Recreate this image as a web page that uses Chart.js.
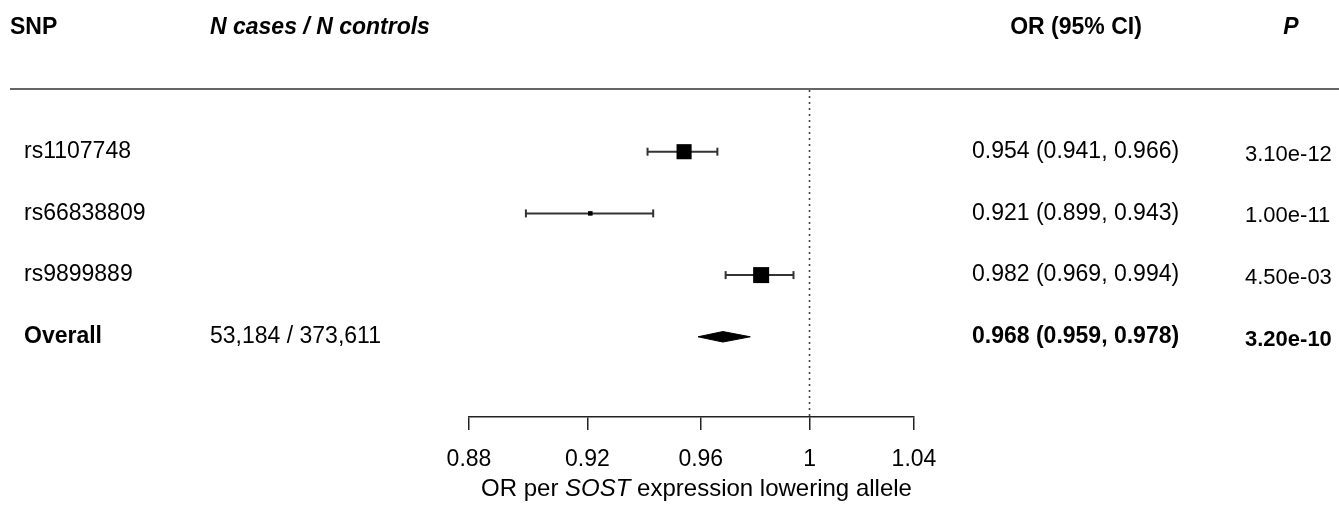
<!DOCTYPE html>
<html><head><meta charset="utf-8">
<script src="https://cdn.jsdelivr.net/npm/chart.js@4/dist/chart.umd.min.js"></script>
<style>html,body{margin:0;padding:0;background:#fff;} canvas{display:block;}</style>
</head><body>
<canvas id="c" width="1339" height="509"></canvas>
<script>
// ---- data ----
const snps = ['rs1107748', 'rs66838809', 'rs9899889'];
const snpOR = [0.954, 0.921, 0.982];
const snpLower = [0.941, 0.899, 0.969];
const snpUpper = [0.966, 0.943, 0.994];
const snpP = ['3.10e-12', '1.00e-11', '4.50e-03'];
const overallLabel = ['Overall'];
const overallN = ['53,184 / 373,611'];
const overallOR = [0.968];
const overallLower = [0.959];
const overallUpper = [0.978];
const overallP = ['3.20e-10'];
const tickValues = [0.88, 0.92, 0.96, 1, 1.04];
const tickLabels = ['0.88', '0.92', '0.96', '1', '1.04'];
const headers = ['SNP', 'N cases / N controls', 'OR (95% CI)', 'P'];
const axisTitle = ['OR per ', 'SOST', ' expression lowering allele'];

// ---- derived ----
const FONT = '"Liberation Sans", Arial, Helvetica, sans-serif';
const FS = 23;
const FS_P = 22;
const FS_T = 24;
const Y_MAX = 5.3;
const nRows = snps.length + 1;
// box side proportional to inverse-variance weight (from CI width on log scale)
const w = snps.map((_, i) => 1 / Math.pow(Math.log(snpUpper[i] / snpLower[i]), 2));
const wMax = Math.max(...w);
const boxSide = w.map(v => 16 * v / wMax);

const datasets = [];
// squares (drawn on top)
datasets.push({
  data: snps.map((_, i) => ({x: snpOR[i], y: i + 1})),
  pointStyle: 'rect',
  pointRadius: boxSide.map(s => s / Math.SQRT2),
  backgroundColor: '#000', borderColor: '#000', pointBorderWidth: 0,
  showLine: false
});
// whiskers
snps.forEach((_, i) => {
  datasets.push({
    data: [{x: snpLower[i], y: i + 1}, {x: snpUpper[i], y: i + 1}],
    showLine: true, borderColor: '#333', borderWidth: 2,
    pointStyle: 'line', rotation: 90, pointRadius: 4, pointBorderWidth: 2,
    pointBorderColor: '#333', pointBackgroundColor: '#333'
  });
});
// overall diamond
const oy = nRows, h = 0.085;
datasets.push({
  data: [
    {x: overallLower[0], y: oy}, {x: overallOR[0], y: oy - h},
    {x: overallUpper[0], y: oy}, {x: overallOR[0], y: oy + h},
    {x: overallLower[0], y: oy}
  ],
  showLine: true, fill: 'shape', backgroundColor: '#000', borderColor: '#000',
  borderWidth: 1, pointRadius: 0, tension: 0
});
// null line at OR = 1
datasets.push({
  data: [{x: 1, y: 0}, {x: 1, y: Y_MAX}],
  showLine: true, borderColor: '#444', borderWidth: 1.6, borderDash: [2, 4],
  pointRadius: 0
});

const textPlugin = {
  id: 'forestText',
  afterDraw(chart) {
    const ctx = chart.ctx, ys = chart.scales.y, xs = chart.scales.x;
    ctx.save();
    ctx.fillStyle = '#000';
    ctx.textBaseline = 'middle';
    // headers
    ctx.textAlign = 'left';
    ctx.font = `bold ${FS}px ${FONT}`;
    ctx.fillText(headers[0], 10, 28);
    ctx.font = `italic bold ${FS}px ${FONT}`;
    ctx.fillText(headers[1], 210, 28);
    ctx.textAlign = 'center';
    ctx.font = `bold ${FS}px ${FONT}`;
    ctx.fillText(headers[2], 1076, 28);
    ctx.font = `italic bold ${FS}px ${FONT}`;
    ctx.fillText(headers[3], 1291, 28);
    // top rule
    ctx.strokeStyle = '#333';
    ctx.lineWidth = 1.6;
    ctx.beginPath(); ctx.moveTo(10, 89); ctx.lineTo(1339, 89); ctx.stroke();
    // rows
    ctx.textAlign = 'left';
    const fmt = v => v.toFixed(3);
    snps.forEach((s, i) => {
      const py = ys.getPixelForValue(i + 1);
      ctx.font = `${FS}px ${FONT}`;
      ctx.fillText(s, 24, py);
      ctx.fillText(`${fmt(snpOR[i])} (${fmt(snpLower[i])}, ${fmt(snpUpper[i])})`, 972, py);
      ctx.font = `${FS_P}px ${FONT}`;
      ctx.fillText(snpP[i], 1245, py + 3);
    });
    const py = ys.getPixelForValue(oy);
    ctx.font = `bold ${FS}px ${FONT}`;
    ctx.fillText(overallLabel[0], 24, py);
    ctx.font = `${FS}px ${FONT}`;
    ctx.fillText(overallN[0], 210, py);
    ctx.font = `bold ${FS}px ${FONT}`;
    ctx.fillText(`${fmt(overallOR[0])} (${fmt(overallLower[0])}, ${fmt(overallUpper[0])})`, 972, py);
    ctx.font = `bold ${FS_P}px ${FONT}`;
    ctx.fillText(overallP[0], 1245, py + 3);
    // axis title with italic gene name
    const fN = `${FS_T}px ${FONT}`, fI = `italic ${FS_T}px ${FONT}`;
    ctx.font = fN; const w0 = ctx.measureText(axisTitle[0]).width;
    ctx.font = fI; const w1 = ctx.measureText(axisTitle[1]).width;
    ctx.font = fN; const w2 = ctx.measureText(axisTitle[2]).width;
    let tx = (xs.left + xs.right) / 2 + 5 - (w0 + w1 + w2) / 2;
    const ty = 489;
    ctx.font = fN; ctx.fillText(axisTitle[0], tx, ty); tx += w0;
    ctx.font = fI; ctx.fillText(axisTitle[1], tx, ty); tx += w1;
    ctx.font = fN; ctx.fillText(axisTitle[2], tx, ty);
    ctx.restore();
  }
};

new Chart(document.getElementById('c'), {
  type: 'scatter',
  data: {datasets},
  options: {
    responsive: false, animation: false, devicePixelRatio: 1, events: [],
    layout: {padding: {left: 469, right: 425, top: 90, bottom: 0}},
    plugins: {legend: {display: false}, tooltip: {enabled: false}},
    scales: {
      x: {
        type: 'logarithmic', min: tickValues[0], max: tickValues[tickValues.length - 1],
        afterBuildTicks: s => { s.ticks = tickValues.map(v => ({value: v})); },
        afterFit: s => { s.height = 92; },
        ticks: {
          autoSkip: false, maxRotation: 0, padding: 16, color: '#000',
          font: {family: FONT, size: FS},
          callback: v => tickLabels[tickValues.indexOf(v)]
        },
        grid: {display: true, drawOnChartArea: false, drawTicks: true, tickLength: 13, color: '#222', lineWidth: 1.5},
        border: {display: true, color: '#222', width: 1.5}
      },
      y: {type: 'linear', reverse: true, min: 0, max: Y_MAX, display: false}
    }
  },
  plugins: [textPlugin]
});
</script>
</body></html>
